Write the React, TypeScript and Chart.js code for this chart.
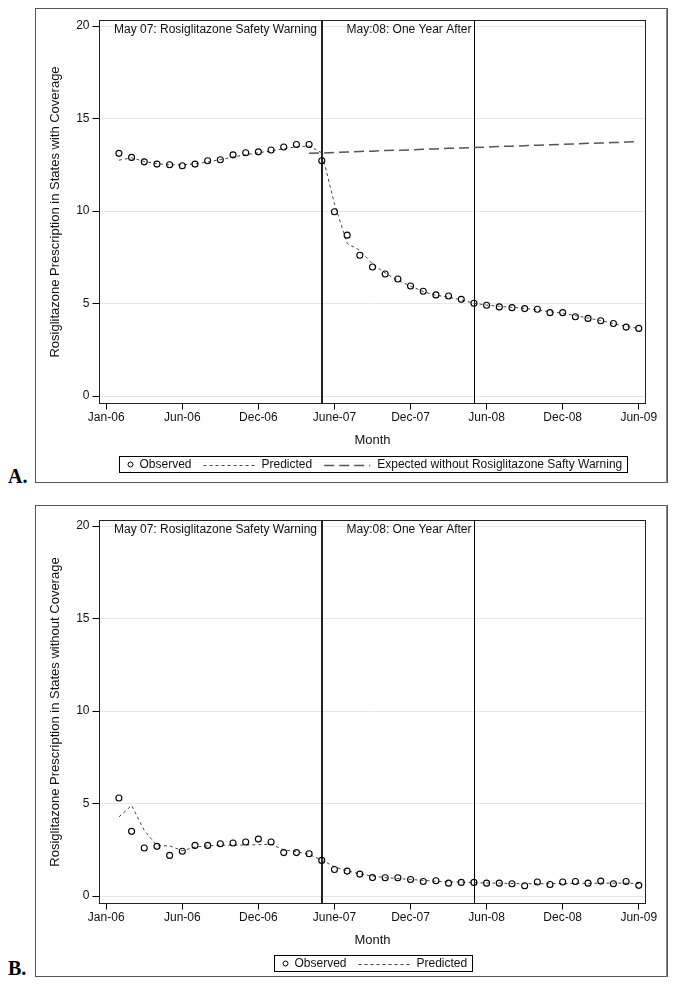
import React, { useEffect, useRef } from 'react';
import { Chart, registerables } from 'chart.js';

Chart.register(...registerables);

// ---------- data ----------
const months = [
  1, 2, 3, 4, 5, 6, 7, 8, 9, 10, 11, 12, 13, 14, 15, 16, 17, 18, 19, 20, 21,
  22, 23, 24, 25, 26, 27, 28, 29, 30, 31, 32, 33, 34, 35, 36, 37, 38, 39, 40, 41, 42,
];
const xTickValues = [0, 6, 12, 18, 24, 30, 36, 42];
const xTickLabels = ['Jan-06', 'Jun-06', 'Dec-06', 'June-07', 'Dec-07', 'Jun-08', 'Dec-08', 'Jun-09'];
const yTickValues = [0, 5, 10, 15, 20];

const warningMonth = 17;
const oneYearMonth = 29;
const warningText = 'May 07: Rosiglitazone Safety Warning';
const oneYearText = 'May:08: One Year After';

const coveredObserved = [
  13.12, 12.9, 12.66, 12.54, 12.5, 12.45, 12.54, 12.72, 12.77, 13.04,
  13.15, 13.2, 13.3, 13.46, 13.6, 13.6, 12.72, 9.96, 8.7, 7.61,
  6.98, 6.6, 6.33, 5.95, 5.67, 5.47, 5.41, 5.23, 5.02, 4.91,
  4.82, 4.78, 4.73, 4.69, 4.51, 4.51, 4.29, 4.2, 4.07, 3.92,
  3.73, 3.66,
];
const coveredPredicted = [
  12.75, 12.88, 12.68, 12.56, 12.5, 12.5, 12.55, 12.65, 12.78, 12.92,
  13.05, 13.15, 13.25, 13.37, 13.47, 13.52, 13.15, 10.4, 8.25, 7.88,
  7.15, 6.65, 6.25, 5.95, 5.65, 5.45, 5.35, 5.2, 5.02, 4.92,
  4.85, 4.8, 4.74, 4.66, 4.56, 4.48, 4.35, 4.22, 4.08, 3.92,
  3.78, 3.65,
];
const coveredExpected = [
  null, null, null, null, null, null, null, null, null, null,
  null, null, null, null, null, 13.12, 13.14, 13.17, 13.19, 13.22,
  13.24, 13.27, 13.29, 13.31, 13.34, 13.36, 13.39, 13.41, 13.44, 13.46,
  13.49, 13.51, 13.53, 13.56, 13.58, 13.61, 13.63, 13.66, 13.68, 13.7,
  13.73, 13.75,
];
const uncoveredObserved = [
  5.3, 3.5, 2.6, 2.69, 2.2, 2.42, 2.74, 2.74, 2.83, 2.87,
  2.92, 3.08, 2.92, 2.35, 2.35, 2.29, 1.93, 1.44, 1.35, 1.19,
  1.0, 0.99, 0.99, 0.9, 0.79, 0.83, 0.7, 0.74, 0.74, 0.7,
  0.7, 0.67, 0.56, 0.76, 0.63, 0.76, 0.79, 0.7, 0.81, 0.67,
  0.79, 0.58,
];
const uncoveredPredicted = [
  4.28, 4.9, 3.55, 2.72, 2.72, 2.45, 2.65, 2.72, 2.75, 2.76,
  2.76, 2.78, 2.8, 2.5, 2.4, 2.25, 1.95, 1.58, 1.37, 1.2,
  1.08, 1.0, 0.95, 0.9, 0.85, 0.8, 0.77, 0.75, 0.73, 0.71,
  0.7, 0.68, 0.67, 0.67, 0.67, 0.68, 0.69, 0.69, 0.7, 0.7,
  0.7, 0.68,
];

// ---------- styles ----------
const FAMILY = "'Liberation Sans', Arial, Helvetica, sans-serif";
const FONT_SIZE = 12;
const TITLE_SIZE = 13;
const TEXT_COLOR = '#111';
const SHORT_DASH = [3, 3];
const LONG_DASH = [10, 5];

type LegendKind = 'circle' | 'short' | 'long';
type LegendItem = { kind: LegendKind; label: string };

const toPoints = (ys: (number | null)[]) => months.map((x, i) => ({ x, y: ys[i] }));

const overlayPlugin = {
  id: 'overlay',
  beforeDatasetsDraw(chart: any) {
    const { ctx, chartArea: ca } = chart;
    const xs = chart.scales.x;
    ctx.save();
    const x1 = Math.round(xs.getPixelForValue(warningMonth));
    ctx.strokeStyle = '#222';
    ctx.lineWidth = 2;
    ctx.beginPath();
    ctx.moveTo(x1, ca.top);
    ctx.lineTo(x1, ca.bottom);
    ctx.stroke();
    const x2 = Math.round(xs.getPixelForValue(oneYearMonth)) + 0.5;
    ctx.strokeStyle = '#000';
    ctx.lineWidth = 1;
    ctx.beginPath();
    ctx.moveTo(x2, ca.top);
    ctx.lineTo(x2, ca.bottom);
    ctx.stroke();
    ctx.fillStyle = TEXT_COLOR;
    ctx.font = `${FONT_SIZE}px ${FAMILY}`;
    ctx.textAlign = 'right';
    ctx.textBaseline = 'middle';
    ctx.fillText(warningText, x1 - 5, ca.top + 9);
    ctx.fillText(oneYearText, x2 - 3, ca.top + 9);
    ctx.restore();
  },
  afterDraw(chart: any, _args: any, opts: any) {
    const { ctx, chartArea: ca, width, height } = chart;
    ctx.save();
    // plot box
    ctx.strokeStyle = '#222';
    ctx.lineWidth = 1;
    ctx.strokeRect(ca.left, ca.top, ca.right - ca.left, ca.bottom - ca.top);
    // outer frame
    ctx.strokeStyle = '#555';
    ctx.strokeRect(0.5, 0.5, width - 1, height - 1);
    ctx.strokeStyle = '#888';
    ctx.beginPath();
    ctx.moveTo(width - 1.5, 0);
    ctx.lineTo(width - 1.5, height);
    ctx.stroke();

    // legend
    const items: LegendItem[] = opts.legend || [];
    ctx.font = `${FONT_SIZE}px ${FAMILY}`;
    const padL = 7;
    const padR = 5;
    const symW = (k: LegendKind) => (k === 'circle' ? 8 : k === 'short' ? 54 : 46);
    const symGap = (k: LegendKind) => (k === 'circle' ? 5 : k === 'short' ? 4 : 7);
    const itemGap = 12;
    let total = padL + padR;
    items.forEach((it, i) => {
      total += symW(it.kind) + symGap(it.kind) + ctx.measureText(it.label).width;
      if (i > 0) total += itemGap;
    });
    const boxH = 16;
    const boxTop = opts.legendTop;
    const cx = (ca.left + ca.right) / 2;
    const boxLeft = Math.round(cx - total / 2) + 0.5;
    ctx.strokeStyle = '#000';
    ctx.lineWidth = 1;
    ctx.strokeRect(boxLeft, boxTop + 0.5, Math.round(total), boxH);
    const midY = boxTop + 0.5 + boxH / 2;
    let xPos = boxLeft + padL;
    items.forEach((it, i) => {
      if (i > 0) xPos += itemGap;
      const w = symW(it.kind);
      ctx.save();
      if (it.kind === 'circle') {
        ctx.strokeStyle = '#000';
        ctx.lineWidth = 1;
        ctx.beginPath();
        ctx.arc(xPos + w / 2, midY, 2.5, 0, Math.PI * 2);
        ctx.stroke();
      } else {
        ctx.strokeStyle = it.kind === 'short' ? '#444' : '#555';
        ctx.lineWidth = it.kind === 'short' ? 1 : 1.5;
        ctx.setLineDash(it.kind === 'short' ? SHORT_DASH : LONG_DASH);
        ctx.beginPath();
        ctx.moveTo(xPos, Math.round(midY) + 0.5);
        ctx.lineTo(xPos + w, Math.round(midY) + 0.5);
        ctx.stroke();
      }
      ctx.restore();
      xPos += w + symGap(it.kind);
      ctx.fillStyle = TEXT_COLOR;
      ctx.textAlign = 'left';
      ctx.textBaseline = 'middle';
      ctx.fillText(it.label, xPos, midY + 0.5);
      xPos += ctx.measureText(it.label).width;
    });
    ctx.restore();
  },
};

type PanelProps = {
  observed: number[];
  predicted: number[];
  expected?: (number | null)[];
  yTitle: string;
  legend: LegendItem[];
  width: number;
  height: number;
  padTop: number;
  padBottom: number;
  legendTop: number;
};

function Panel(props: PanelProps) {
  const ref = useRef<HTMLCanvasElement | null>(null);
  useEffect(() => {
    if (!ref.current) return;
    const font = { family: FAMILY, size: FONT_SIZE };
    const titleFont = { family: FAMILY, size: TITLE_SIZE };
    const datasets: any[] = [
      {
        label: 'Observed',
        data: toPoints(props.observed),
        showLine: false,
        pointRadius: 3,
        pointBorderWidth: 1.1,
        pointBorderColor: '#000',
        pointBackgroundColor: 'rgba(0,0,0,0)',
      },
      {
        label: 'Predicted',
        data: toPoints(props.predicted),
        borderColor: '#444',
        borderWidth: 1,
        borderDash: SHORT_DASH,
        pointRadius: 0,
        fill: false,
        tension: 0,
      },
    ];
    if (props.expected) {
      datasets.push({
        label: 'Expected without Rosiglitazone Safty Warning',
        data: toPoints(props.expected),
        borderColor: '#555',
        borderWidth: 1.5,
        borderDash: LONG_DASH,
        pointRadius: 0,
        fill: false,
        spanGaps: false,
      });
    }
    const chart = new Chart(ref.current, {
      type: 'line',
      data: { datasets },
      plugins: [overlayPlugin as any],
      options: {
        animation: false,
        responsive: false,
        maintainAspectRatio: false,
        events: [],
        layout: { padding: { left: 9, right: 22.5, top: props.padTop, bottom: props.padBottom } },
        plugins: {
          legend: { display: false },
          tooltip: { enabled: false },
          overlay: { legend: props.legend, legendTop: props.legendTop },
        } as any,
        scales: {
          x: {
            type: 'linear',
            min: -0.53,
            max: 42.53,
            afterBuildTicks: (s: any) => {
              s.ticks = xTickValues.map((v) => ({ value: v }));
            },
            afterFit: (s: any) => {
              s.height = 49;
            },
            ticks: {
              autoSkip: false,
              maxRotation: 0,
              padding: 1,
              color: TEXT_COLOR,
              font,
              callback: (v: any) => {
                const i = xTickValues.indexOf(Number(v));
                return i >= 0 ? xTickLabels[i] : '';
              },
            },
            grid: { drawOnChartArea: false, tickLength: 6, tickColor: '#000', color: '#000' },
            border: { display: false },
            title: { display: true, text: 'Month', color: TEXT_COLOR, font: titleFont, padding: { top: 4, bottom: 4 } },
          },
          y: {
            type: 'linear',
            min: -0.4,
            max: 20.3,
            afterBuildTicks: (s: any) => {
              s.ticks = yTickValues.map((v) => ({ value: v }));
            },
            afterFit: (s: any) => {
              s.width = 55.5;
            },
            ticks: { padding: 3, color: TEXT_COLOR, font },
            grid: { color: '#e6e6e6', tickColor: '#000', tickLength: 7 },
            border: { display: false },
            title: { display: true, text: props.yTitle, color: TEXT_COLOR, font: titleFont, padding: { top: 4, bottom: 4 } },
          },
        },
      } as any,
    });
    return () => chart.destroy();
  }, []);
  return (
    <canvas
      ref={ref}
      width={props.width}
      height={props.height}
      style={{ width: props.width, height: props.height, display: 'block' }}
    />
  );
}

const letterStyle: React.CSSProperties = {
  position: 'absolute',
  left: 8,
  fontFamily: "'Liberation Serif', 'Times New Roman', serif",
  fontWeight: 'bold',
  fontSize: 20,
  lineHeight: '20px',
  color: '#000',
};

export default function App() {
  return (
    <div style={{ position: 'absolute', left: 0, top: 0, width: 676, height: 991, background: '#fff' }}>
      <div style={{ position: 'absolute', left: 35, top: 8 }}>
        <Panel
          observed={coveredObserved}
          predicted={coveredPredicted}
          expected={coveredExpected}
          yTitle="Rosiglitazone Prescription in States with Coverage"
          legend={[
            { kind: 'circle', label: 'Observed' },
            { kind: 'short', label: 'Predicted' },
            { kind: 'long', label: 'Expected without Rosiglitazone Safty Warning' },
          ]}
          width={633}
          height={475}
          padTop={12.5}
          padBottom={30.5}
          legendTop={448}
        />
      </div>
      <div style={{ ...letterStyle, top: 466 }}>A.</div>
      <div style={{ position: 'absolute', left: 35, top: 505 }}>
        <Panel
          observed={uncoveredObserved}
          predicted={uncoveredPredicted}
          yTitle="Rosiglitazone Prescription in States without Coverage"
          legend={[
            { kind: 'circle', label: 'Observed' },
            { kind: 'short', label: 'Predicted' },
          ]}
          width={633}
          height={472}
          padTop={15.5}
          padBottom={24.5}
          legendTop={450}
        />
      </div>
      <div style={{ ...letterStyle, top: 958 }}>B.</div>
    </div>
  );
}
